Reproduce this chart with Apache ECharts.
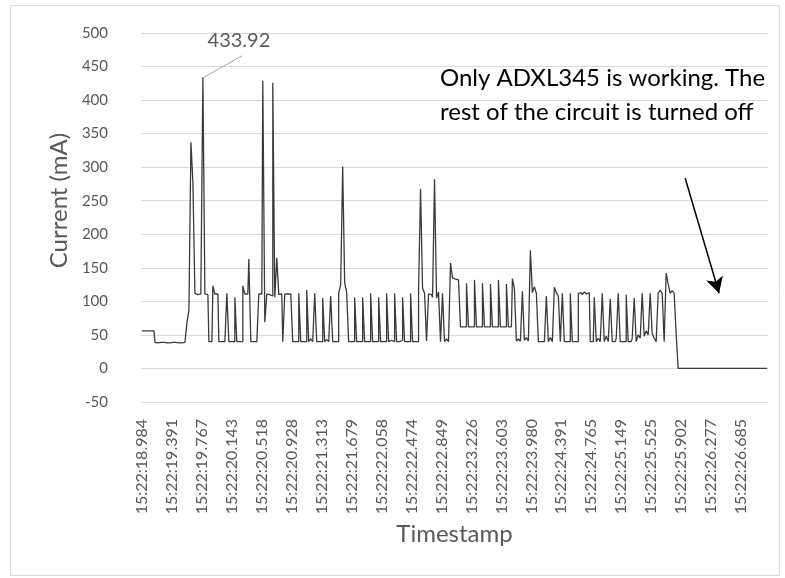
<!DOCTYPE html>
<html>
<head>
<meta charset="utf-8">
<script src="https://cdn.jsdelivr.net/npm/echarts@6/dist/echarts.min.js"></script>
<style>
    html, body { margin: 0; padding: 0; background: #fff; }
    #chart { width: 785px; height: 578px; }
</style>
</head>
<body>
<div id="chart"></div>
<script>
// one tick label every 15 samples
const tickLabels = [
    "15:22:18.984", "15:22:19.391", "15:22:19.767", "15:22:20.143", "15:22:20.518",
    "15:22:20.928", "15:22:21.313", "15:22:21.679", "15:22:22.058", "15:22:22.474",
    "15:22:22.849", "15:22:23.226", "15:22:23.603", "15:22:23.980", "15:22:24.391",
    "15:22:24.765", "15:22:25.149", "15:22:25.525", "15:22:25.902", "15:22:26.277",
    "15:22:26.685"
];
const labelEvery = 15;

// current in mA
const current = [
    56, 56, 56, 56, 56, 56, 56, 39, 38, 39,
    38, 39, 38, 39, 38, 39, 38, 39, 38, 39,
    38, 39, 40, 68, 87, 337, 276, 112, 110, 111,
    124, 433.92, 111, 110, 40, 40, 123, 111, 111, 40,
    40, 40, 40, 112, 40, 40, 40, 106, 40, 40,
    40, 123, 111, 111, 163, 40, 40, 40, 40, 111,
    111, 429, 69, 111, 110, 108, 426, 106, 165, 110,
    111, 40, 111, 111, 111, 111, 40, 40, 40, 112,
    40, 40, 40, 117, 40, 44, 40, 112, 40, 40,
    40, 105, 40, 43, 40, 108, 40, 40, 40, 112,
    125, 301, 128, 113, 40, 40, 40, 106, 40, 40,
    40, 106, 40, 40, 40, 112, 40, 40, 40, 106,
    40, 40, 40, 112, 40, 42, 40, 112, 40, 40,
    42, 106, 40, 40, 40, 112, 40, 40, 40, 116,
    268, 120, 112, 41, 111, 110, 106, 282, 105, 114,
    40, 112, 40, 44, 40, 157, 135, 133, 132, 131,
    62, 62, 62, 127, 62, 62, 62, 132, 62, 62,
    62, 127, 62, 62, 62, 126, 62, 62, 62, 132,
    62, 62, 62, 126, 62, 62, 134, 119, 41, 44,
    41, 115, 42, 46, 41, 176, 113, 122, 112, 40,
    40, 40, 40, 108, 40, 46, 40, 121, 113, 108,
    40, 112, 40, 40, 40, 112, 40, 40, 40, 112,
    113, 110, 114, 111, 113, 40, 40, 106, 40, 45,
    40, 112, 40, 48, 40, 104, 40, 40, 45, 112,
    40, 40, 40, 110, 40, 40, 45, 105, 40, 50,
    45, 112, 48, 56, 50, 112, 52, 45, 40, 112,
    117, 112, 40, 142, 126, 112, 116, 112, 52, 0,
    0, 0, 0, 0, 0, 0, 0, 0, 0, 0,
    0, 0, 0, 0, 0, 0, 0, 0, 0, 0,
    0, 0, 0, 0, 0, 0, 0, 0, 0, 0,
    0, 0, 0, 0, 0, 0, 0, 0, 0, 0,
    0, 0, 0, 0
];

const peakValue = 433.92;
const noteLines = ["Only ADXL345 is working. The", "rest of the circuit is turned off"];

const font = "Lato, 'Open Sans', sans-serif";
const grey = "#595959";

// category names: timestamp on labelled samples, blank elsewhere
const categories = current.map((v, i) => {
    if ( i % labelEvery === 0 && tickLabels[i / labelEvery] )
        return tickLabels[i / labelEvery];
    return "";
});

const peakIndex = current.indexOf(peakValue);

const chart = echarts.init(document.getElementById("chart"), null, { renderer: "canvas" });

const option = {
    animation: false,
    backgroundColor: "#fff",
    textStyle: { fontFamily: font },
    grid: {
        left: 141,
        right: 17,
        top: 33,
        bottom: 176,
        outerBoundsMode: "none"
    },
    xAxis: {
        type: "category",
        data: categories,
        boundaryGap: true,
        name: "Timestamp",
        nameLocation: "middle",
        nameGap: 108,
        nameTextStyle: { fontSize: 24, color: grey, fontFamily: font },
        axisLine: { show: false, onZero: true },
        axisTick: { show: false },
        axisLabel: {
            interval: labelEvery - 1,
            rotate: 90,
            margin: 17,
            fontSize: 16,
            color: grey,
            fontFamily: font
        },
        splitLine: { show: false }
    },
    yAxis: {
        type: "value",
        min: -50,
        max: 500,
        interval: 50,
        name: "Current (mA)",
        nameLocation: "middle",
        nameGap: 66,
        nameTextStyle: { fontSize: 24, color: grey, fontFamily: font, padding: [0, 0, 0, 34] },
        axisLine: { show: false },
        axisTick: { show: false },
        axisLabel: { fontSize: 15, color: grey, margin: 33, fontFamily: font },
        splitLine: { lineStyle: { color: "#d9d9d9", width: 1 } }
    },
    series: [
        {
            name: "Current",
            type: "line",
            data: current,
            step: "middle",
            showSymbol: false,
            symbol: "none",
            lineStyle: { color: "#3a3a3a", width: 1.3 },
            silent: true,
            markPoint: {
                silent: true,
                symbol: "circle",
                symbolSize: 1,
                itemStyle: { color: "rgba(0,0,0,0)" },
                label: {
                    show: true,
                    formatter: String(peakValue),
                    fontSize: 20,
                    color: grey,
                    fontFamily: font,
                    offset: [35, -37]
                },
                data: [ { coord: [peakIndex, peakValue], value: peakValue } ]
            },
            markLine: {
                silent: true,
                animation: false,
                symbol: ["none", "none"],
                label: { show: false },
                data: [
                    // leader line to the peak label
                    [
                        { coord: [peakIndex, peakValue], lineStyle: { color: "#a6a6a6", width: 1, type: "solid" } },
                        { coord: [peakIndex + 18.5, 466] }
                    ],
                    // arrow pointing at the flat tail
                    [
                        { coord: [272, 284], lineStyle: { color: "#000", width: 1.5, type: "solid" } },
                        { coord: [289, 112], symbol: "arrow", symbolSize: [13, 16] }
                    ]
                ]
            }
        }
    ],
    graphic: [
        {
            type: "rect",
            left: 8,
            top: 3,
            shape: { width: 769, height: 570 },
            style: { fill: null, stroke: "#d9d9d9", lineWidth: 1 },
            silent: true
        },
        {
            type: "text",
            left: 440,
            top: 61,
            style: {
                text: noteLines.join("\n"),
                font: "24px " + font,
                fill: "#000",
                lineHeight: 34
            },
            silent: true
        }
    ]
};

chart.setOption(option);
</script>
</body>
</html>
